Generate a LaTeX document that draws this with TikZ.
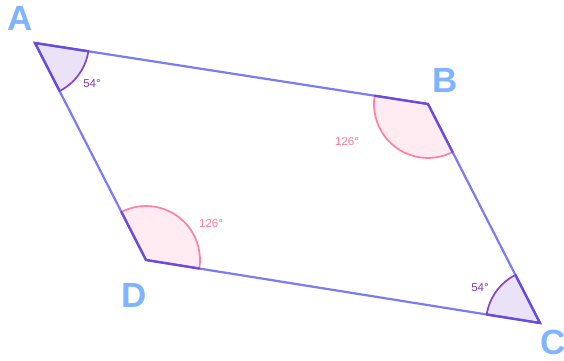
\documentclass[tikz,border=0pt]{standalone}
\usepackage{fontspec}
\setmainfont{Liberation Sans}
\usetikzlibrary{calc}
\begin{document}
\begin{tikzpicture}[x=1pt,y=1pt,
  side/.style={draw=sideblue,line width=2.2pt,line cap=round,line join=round},
  vlabel/.style={text=vlab,font=\fontsize{35}{35}\selectfont\bfseries,inner sep=0pt},
  smallsec/.style={fill=secfillA,draw=arcA,line width=1.7pt},
  bigsec/.style={fill=secfillB,draw=arcB,line width=1.7pt},
  alab/.style={font=\fontsize{11.5}{12}\selectfont,inner sep=0pt},
  sedge/.style={draw=edgedark,line width=2.3pt,line cap=round}]
\definecolor{sideblue}{HTML}{7B7BF2}
\definecolor{edgedark}{HTML}{6A4BE0}
\definecolor{vlab}{HTML}{80B4FF}
\definecolor{secfillA}{HTML}{EAE3F8}
\definecolor{arcA}{HTML}{8C40CC}
\definecolor{secfillB}{HTML}{FFEBF1}
\definecolor{arcB}{HTML}{FF80A2}
\definecolor{labA}{HTML}{7A3CB4}
\definecolor{labB}{HTML}{FF7898}
\useasboundingbox (0,0) rectangle (564,360);
\coordinate (A) at (35,317);
\coordinate (B) at (428,256);
\coordinate (C) at (540,37);
\coordinate (D) at (146,100);
% sectors
\path[smallsec] (A) -- ++(-8.82:54) arc[start angle=-8.82,end angle=-62.9,radius=54] -- cycle;
\path[bigsec] (B) -- ++(171.18:54) arc[start angle=171.18,end angle=297.1,radius=54] -- cycle;
\path[smallsec] (C) -- ++(117.1:54) arc[start angle=117.1,end angle=170.92,radius=54] -- cycle;
\path[bigsec] (D) -- ++(-9.08:54) arc[start angle=-9.08,end angle=117.1,radius=54] -- cycle;
% sides
\draw[side] (A) -- (B) -- (C) -- (D) -- cycle;
% darker edges inside sectors
\draw[sedge] ($(A)+(-8.82:54)$) -- (A) -- ($(A)+(-62.9:54)$);
\draw[sedge] ($(B)+(171.18:54)$) -- (B) -- ($(B)+(297.1:54)$);
\draw[sedge] ($(C)+(117.1:54)$) -- (C) -- ($(C)+(170.92:54)$);
\draw[sedge] ($(D)+(-9.08:54)$) -- (D) -- ($(D)+(117.1:54)$);
% angle labels
\node[alab,text=labA] (la) at (92,276) {54°};
\node[alab,text=labB] (lb) at (347,218) {126°};
\node[alab,text=labB] (ld) at (211,136) {126°};
\node[alab,text=labA] (lc) at (480,72) {54°};
% vertex labels
\node[vlabel] (nA) at (20,342) {A};
\node[vlabel] (nB) at (445,280) {B};
\node[vlabel] (nD) at (134,65) {D};
\node[vlabel] (nC) at (553,18) {C};
\end{tikzpicture}
\end{document}
